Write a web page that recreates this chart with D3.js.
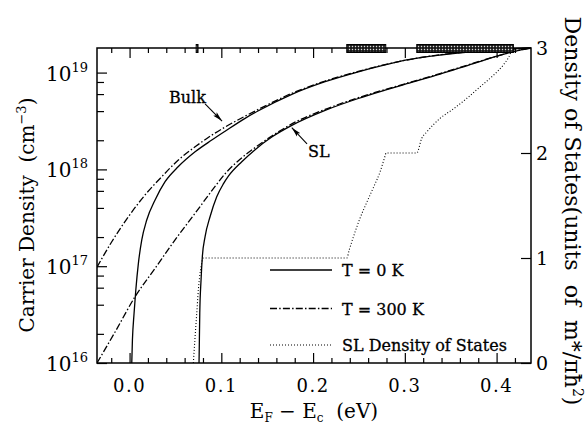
<!DOCTYPE html>
<html><head><meta charset="utf-8">
<script src="https://cdn.jsdelivr.net/npm/d3@7"></script>
<style>body{margin:0;background:#fff}svg{display:block}</style>
</head><body>
<svg id="c" width="585" height="425"></svg>
<script>
// ---- data ----
const bulkT0_E = [0.0018,0.0031,0.0049,0.0068,0.0096,0.0133,0.0187,0.0278,0.0387,0.0532,0.0714,0.0896,0.1041,0.1259,0.1404,0.1768,0.2131,0.2493,0.2784,0.3021,0.3384,0.382,0.4375];
const bulkT0_N = [6.3e15,1.73e16,3.26e16,5.68e16,1.07e17,1.87e17,3.0e17,4.83e17,7.46e17,1.07e18,1.52e18,2.01e18,2.48e18,3.37e18,4.03e18,5.96e18,8.05e18,1.02e19,1.20e19,1.35e19,1.52e19,1.67e19,1.795e19];

const bulkT300_E = [-0.0355,-0.0194,-0.0013,0.0169,0.0351,0.0532,0.0714,0.0896,0.1041,0.1259,0.1404,0.1768,0.2131,0.2493,0.2784,0.3384,0.382,0.4375];
const bulkT300_N = [9.77e16,1.79e17,3.24e17,5.45e17,8.41e17,1.25e18,1.71e18,2.26e18,2.74e18,3.55e18,4.17e18,6.10e18,8.18e18,1.03e19,1.21e19,1.53e19,1.67e19,1.795e19];

const slT0_E = [0.0752,0.0757,0.0765,0.0779,0.0793,0.0823,0.0877,0.095,0.1022,0.1077,0.1223,0.1368,0.155,0.1768,0.2131,0.2493,0.2784,0.3021,0.3384,0.3747,0.4111,0.4256,0.4375];
const slT0_N = [6.3e15,1.0e16,3.26e16,7.19e16,1.25e17,2.02e17,3.24e17,5.22e17,7.08e17,8.51e17,1.20e18,1.60e18,2.16e18,2.85e18,4.07e18,5.40e18,6.58e18,7.67e18,9.66e18,1.24e19,1.58e19,1.71e19,1.795e19];

const slT300_E = [-0.0355,-0.0158,0.006,0.0278,0.0496,0.0714,0.0932,0.1041,0.1186,0.1368,0.155,0.1768,0.2131,0.2493,0.2784,0.3021,0.3384,0.3747,0.4111,0.4256,0.4375];
const slT300_N = [1.0e16,2.09e16,4.84e16,9.51e16,1.87e17,3.52e17,6.68e17,9.02e17,1.23e18,1.68e18,2.21e18,2.95e18,4.17e18,5.50e18,6.68e18,7.76e18,9.77e18,1.25e19,1.58e19,1.71e19,1.795e19];

const dos_E = [0.0695,0.0714,0.0732,0.075,0.0774,0.0804,0.2367,0.2395,0.2439,0.2512,0.2585,0.2657,0.273,0.2784,0.2795,0.313,0.3184,0.3239,0.3384,0.3529,0.3675,0.382,0.3965,0.4074,0.4147,0.4165];
const dos_V = [0,0.25,0.47,0.70,0.89,1.0,1.0,1.08,1.2,1.38,1.53,1.67,1.82,1.97,2.0,2.0,2.14,2.2,2.33,2.42,2.52,2.63,2.74,2.84,2.94,2.98];

const minibands = [[0.0726,0.0746],[0.2367,0.2792],[0.313,0.4183]];

const xMajorTicks = [0.0,0.1,0.2,0.3,0.4];
const xTickLabels = ["0.0","0.1","0.2","0.3","0.4"];
const yMajorTicks = [1e16,1e17,1e18,1e19];
const yExponents = ["16","17","18","19"];
const yMinorMantissas = [2,4,6,8];
const dosTicks = [0,1,2,3];
const dosLabels = ["0","1","2","3"];

const legendLabels = ["T = 0 K","T = 300 K","SL Density of States"];

// ---- layout ----
const L=97,R=531,T=48,B=363;
const FONT = "'DejaVu Serif', serif";
const svg = d3.select("#c");
svg.append("rect").attr("width",585).attr("height",425).attr("fill","#fff");

const x = d3.scaleLinear().domain([-0.0355,0.4375]).range([L,R]);
const y = d3.scaleLog().domain([1e16,1.795e19]).range([B,T]);
const yR = d3.scaleLinear().domain([0,3]).range([B,T]);

const defs = svg.append("defs");
defs.append("clipPath").attr("id","clip").append("rect")
  .attr("x",L).attr("y",T-1).attr("width",R-L).attr("height",B-T+1);
const pat = defs.append("pattern").attr("id","hatch").attr("patternUnits","userSpaceOnUse")
  .attr("width",3).attr("height",3);
pat.append("rect").attr("width",3).attr("height",3).attr("fill","#111");
pat.append("rect").attr("x",0.8).attr("y",0.8).attr("width",1.4).attr("height",1.4).attr("fill","#ddd");
defs.append("marker").attr("id","arr").attr("viewBox","0 0 10 6").attr("refX",10).attr("refY",3)
  .attr("markerWidth",10).attr("markerHeight",6).attr("markerUnits","userSpaceOnUse").attr("orient","auto")
  .append("path").attr("d","M0,0.6 L10,3 L0,5.4 L2,3 Z").attr("fill","#000");

// ---- axes ----
const minorX = d3.range(-0.02,0.43,0.02).filter(v=>!xMajorTicks.some(m=>Math.abs(m-v)<1e-6));
const minorY = [];
yMajorTicks.forEach(d=>yMinorMantissas.forEach(m=>{ if (m*d < 1.795e19) minorY.push(m*d); }));

function styleAxis(g){ g.select(".domain").remove(); g.selectAll("line").attr("stroke","#000").attr("stroke-width",1.2); }

svg.append("g").attr("transform",`translate(0,${B})`)
  .call(d3.axisBottom(x).tickValues(minorX).tickSize(-5).tickFormat("")).call(styleAxis);
svg.append("g").attr("transform",`translate(0,${B})`)
  .call(d3.axisBottom(x).tickValues(xMajorTicks).tickSize(-10).tickFormat("")).call(styleAxis);
svg.append("g").attr("transform",`translate(0,${T})`)
  .call(d3.axisTop(x).tickValues(minorX).tickSize(-5).tickFormat("")).call(styleAxis);
svg.append("g").attr("transform",`translate(0,${T})`)
  .call(d3.axisTop(x).tickValues(xMajorTicks).tickSize(-10).tickFormat("")).call(styleAxis);
svg.append("g").attr("transform",`translate(${L},0)`)
  .call(d3.axisLeft(y).tickValues(minorY).tickSize(-7).tickFormat("")).call(styleAxis);
svg.append("g").attr("transform",`translate(${L},0)`)
  .call(d3.axisLeft(y).tickValues(yMajorTicks).tickSize(-10).tickFormat("")).call(styleAxis);
svg.append("g").attr("transform",`translate(${R},0)`)
  .call(d3.axisRight(yR).tickValues(dosTicks).tickSize(-10).tickFormat("")).call(styleAxis);

// tick labels
svg.append("g").selectAll("text").data(xMajorTicks).join("text")
  .attr("x",d=>x(d)).attr("y",B+29).attr("text-anchor","middle")
  .attr("font-family",FONT).attr("font-size",18).attr("letter-spacing",1.5)
  .text((d,i)=>xTickLabels[i]);
const yl = svg.append("g").selectAll("text").data(yMajorTicks).join("text")
  .attr("x",L-9).attr("y",d=>y(d)+8).attr("text-anchor","end")
  .attr("font-family",FONT).attr("font-size",20);
yl.append("tspan").text("10");
yl.append("tspan").attr("dy",-9).attr("font-size",13).text((d,i)=>yExponents[i]);
svg.append("g").selectAll("text").data(dosTicks).join("text")
  .attr("x",R+5).attr("y",d=>yR(d)+7).attr("font-family",FONT).attr("font-size",19)
  .text((d,i)=>dosLabels[i]);

// axis titles
const yt = svg.append("text").attr("transform","translate(34,215) rotate(-90)")
  .attr("text-anchor","middle").attr("font-family",FONT).attr("font-size",20);
yt.append("tspan").text("Carrier Density\u00a0\u00a0(cm");
yt.append("tspan").attr("dy",-8).attr("font-size",13).text("\u22123");
yt.append("tspan").attr("dy",8).text(")");

const xt = svg.append("text").attr("x",314).attr("y",418).attr("text-anchor","middle")
  .attr("font-family",FONT).attr("font-size",20);
xt.append("tspan").text("E");
xt.append("tspan").attr("dy",4).attr("font-size",12).text("F");
xt.append("tspan").attr("dy",-4).text(" \u2212 E");
xt.append("tspan").attr("dy",4).attr("font-size",12).text("c");
xt.append("tspan").attr("dy",-4).text("\u00a0\u00a0(eV)");

const rt = svg.append("text").attr("transform","translate(565,211) rotate(90)")
  .attr("text-anchor","middle").attr("font-family",FONT).attr("font-size",22);
rt.append("tspan").text("Density of States(units\u00a0 of\u00a0 m*/\u03c0\u0127");
rt.append("tspan").attr("dy",-8).attr("font-size",14).text("2");
rt.append("tspan").attr("dy",8).text(")");

// ---- curves ----
const plot = svg.append("g").attr("clip-path","url(#clip)");
const lineN = d3.line().x(d=>x(d[0])).y(d=>y(d[1])).curve(d3.curveMonotoneX);
const lineD = d3.line().x(d=>x(d[0])).y(d=>yR(d[1])).curve(d3.curveMonotoneX);
const zip = (a,b)=>a.map((v,i)=>[v,b[i]]);
const DASHDOT = "7,2.2,1.5,2.2", DOT = "1,2";

plot.append("path").attr("d",lineD(zip(dos_E,dos_V))).attr("fill","none")
  .attr("stroke","#000").attr("stroke-width",1.1).attr("stroke-dasharray",DOT);
[[bulkT300_E,bulkT300_N,DASHDOT],[slT300_E,slT300_N,DASHDOT],[bulkT0_E,bulkT0_N,null],[slT0_E,slT0_N,null]]
 .forEach(([e,n,da])=>{
  plot.append("path").attr("d",lineN(zip(e,n))).attr("fill","none")
   .attr("stroke","#000").attr("stroke-width",1.3).attr("stroke-dasharray",da);
 });

// frame
svg.append("rect").attr("x",L).attr("y",T).attr("width",R-L).attr("height",B-T)
  .attr("fill","none").attr("stroke","#000").attr("stroke-width",1.5);

// minibands on top axis
svg.append("g").selectAll("rect").data(minibands).join("rect")
  .attr("x",d=>x(d[0])).attr("width",d=>Math.max(1.5,x(d[1])-x(d[0])))
  .attr("y",T-3.5).attr("height",8).attr("fill","url(#hatch)")
  .attr("stroke","#000").attr("stroke-width",1);

// annotations
function ann(label, tx, tn, x1,n1,x2,n2){
  svg.append("text").attr("x",x(tx)).attr("y",y(tn)).attr("font-family",FONT)
    .attr("font-size",16).attr("stroke","#000").attr("stroke-width",0.3).text(label);
  svg.append("line").attr("x1",x(x1)).attr("y1",y(n1)).attr("x2",x(x2)).attr("y2",y(n2))
    .attr("stroke","#000").attr("stroke-width",1.1).attr("marker-end","url(#arr)");
}
ann("Bulk",0.043,4.82e18, 0.0823,4.74e18, 0.1008,3.16e18);
ann("SL",0.1945,1.34e18, 0.1934,1.83e18, 0.1768,2.70e18);

// legend
const legY = [270,308.5,345];
const legDash = [null,DASHDOT,DOT];
const leg = svg.append("g");
legendLabels.forEach((lab,i)=>{
  leg.append("line").attr("x1",270).attr("x2",332).attr("y1",legY[i]).attr("y2",legY[i])
    .attr("stroke","#000").attr("stroke-width",i===2?1.1:1.3).attr("stroke-dasharray",legDash[i]);
  leg.append("text").attr("x",342).attr("y",legY[i]+6).attr("font-family",FONT)
    .attr("font-size",16).attr("stroke","#000").attr("stroke-width",0.3).text(lab);
});
</script>
</body></html>
